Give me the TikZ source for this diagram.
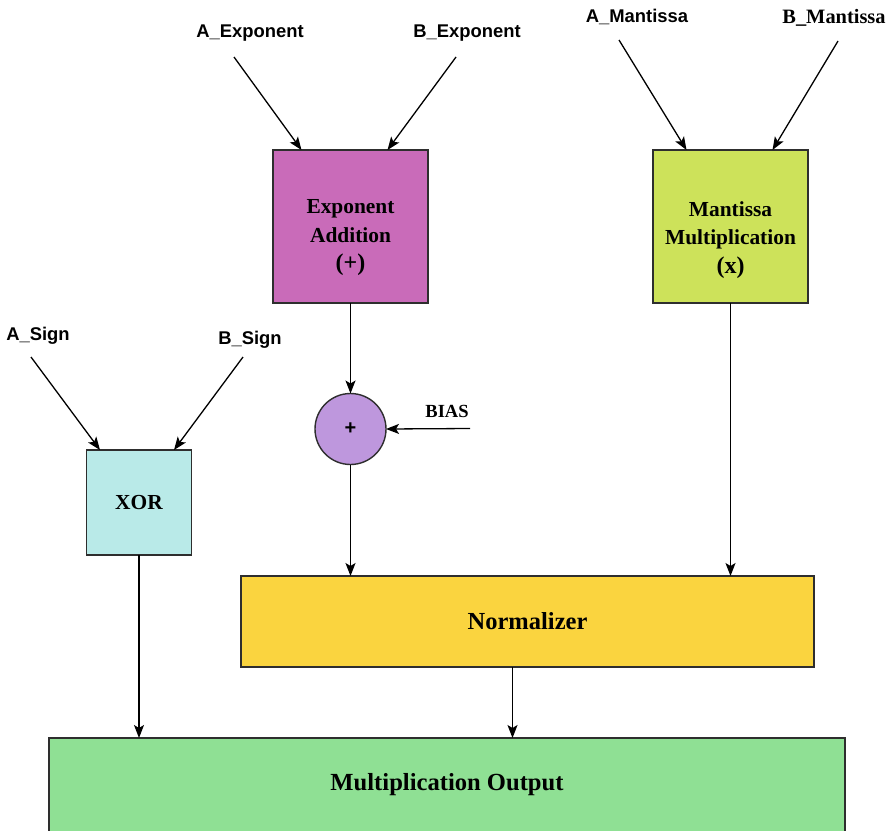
\documentclass[tikz,border=0pt]{standalone}
\usepackage{fontspec}
\setmainfont{Liberation Serif}
\newfontfamily\arialbf{Liberation Sans}[BoldFont={* Bold}]
\usetikzlibrary{arrows.meta}
\definecolor{expfill}{HTML}{C96BB9}
\definecolor{mantfill}{HTML}{CDE25A}
\definecolor{xorfill}{HTML}{B9EAE8}
\definecolor{addfill}{HTML}{BE97DD}
\definecolor{normfill}{HTML}{FAD43F}
\definecolor{outfill}{HTML}{8FE094}
\definecolor{edge}{HTML}{2E2E2E}
\newcommand{\opsym}[1]{{\fontsize{24}{28.5}\selectfont #1}}
\begin{document}
\begin{tikzpicture}[x=1pt,y=-1pt,
  block/.style={draw=edge, line width=1.4pt, inner sep=0pt, outer sep=0pt,
    align=center, font=\bfseries\fontsize{21.4}{28}\selectfont},
  blocktext/.style={inner sep=0pt, align=center,
    font=\bfseries\fontsize{21.4}{28.5}\selectfont},
  sanslabel/.style={inner sep=0pt, font=\arialbf\bfseries\fontsize{18.4}{20}\selectfont},
  seriflabel/.style={inner sep=0pt, font=\bfseries\fontsize{20.4}{22}\selectfont},
  flow/.style={line width=1.3pt, -{Stealth[length=13pt,width=10pt,inset=3pt]}}]
\useasboundingbox (0,0) rectangle (890,830);
\clip (0,0) rectangle (890,830);

% processing blocks
\node[block, fill=expfill, minimum width=155pt, minimum height=153pt] (expadd)
  at (350.5,226.5) {};
\node[blocktext] (expaddtext) at (350.5,238) {Exponent\\Addition\\\opsym{(+)}};
\node[block, fill=mantfill, minimum width=155pt, minimum height=153pt] (mantmul)
  at (730.5,226.5) {};
\node[blocktext] (mantmultext) at (730.5,240) {Mantissa\\Multiplication\\\opsym{(x)}};
\node[block, fill=xorfill, minimum width=105pt, minimum height=105pt] (xor)
  at (139,502.5) {XOR};
\node[block, circle, fill=addfill, minimum size=71pt,
  font=\arialbf\bfseries\fontsize{20}{22}\selectfont] (adder) at (350.5,429) {+};
\node[block, fill=normfill, minimum width=573pt, minimum height=91pt,
  font=\bfseries\fontsize{24.5}{28}\selectfont] (norm) at (527.5,621.5) {Normalizer};
\node[block, fill=outfill, minimum width=796pt, minimum height=96pt] (out)
  at (447,786) {};
\node[font=\bfseries\fontsize{24.6}{28}\selectfont] (outtext) at (447,785) {Multiplication Output};

% input labels
\node[sanslabel] (aexp) at (250,33) {A\_Exponent};
\node[sanslabel] (bexp) at (467,33) {B\_Exponent};
\node[sanslabel] (amant) at (637,17) {A\_Mantissa};
\node[seriflabel] (bmant) at (834,18) {B\_Mantissa};
\node[sanslabel] (asign) at (38,336) {A\_Sign};
\node[sanslabel] (bsign) at (250,340) {B\_Sign};
\node[seriflabel, font=\bfseries\fontsize{18.5}{20}\selectfont] (bias) at (447,411) {BIAS};

% connector start points under the labels
\coordinate (aexpS) at (234,57);
\coordinate (bexpS) at (456,57);
\coordinate (amantS) at (619,40);
\coordinate (bmantS) at (838,41);
\coordinate (asignS) at (31,357);
\coordinate (bsignS) at (243,357);
\coordinate (biasS) at (470,428.5);

% inputs
\draw[flow] (aexpS) -- ([xshift=-49pt]expadd.north);
\draw[flow] (bexpS) -- ([xshift=37pt]expadd.north);
\draw[flow] (amantS) -- ([xshift=-44pt]mantmul.north);
\draw[flow] (bmantS) -- ([xshift=42pt]mantmul.north);
\draw[flow] (asignS) -- ([xshift=-39pt]xor.north);
\draw[flow] (bsignS) -- ([xshift=35pt]xor.north);
\draw[flow] (biasS) -- (adder.east);

% datapath
\draw[flow] (expadd.south) -- (adder.north);
\draw[flow] (adder.south) -- (adder.south |- norm.north);
\draw[flow] (mantmul.south) -- (mantmul.south |- norm.north);
\draw[flow] (xor.south) -- (xor.south |- out.north);
\draw[flow] ([xshift=-15pt]norm.south) -- ([xshift=-15pt]norm.south |- out.north);
\end{tikzpicture}
\end{document}
